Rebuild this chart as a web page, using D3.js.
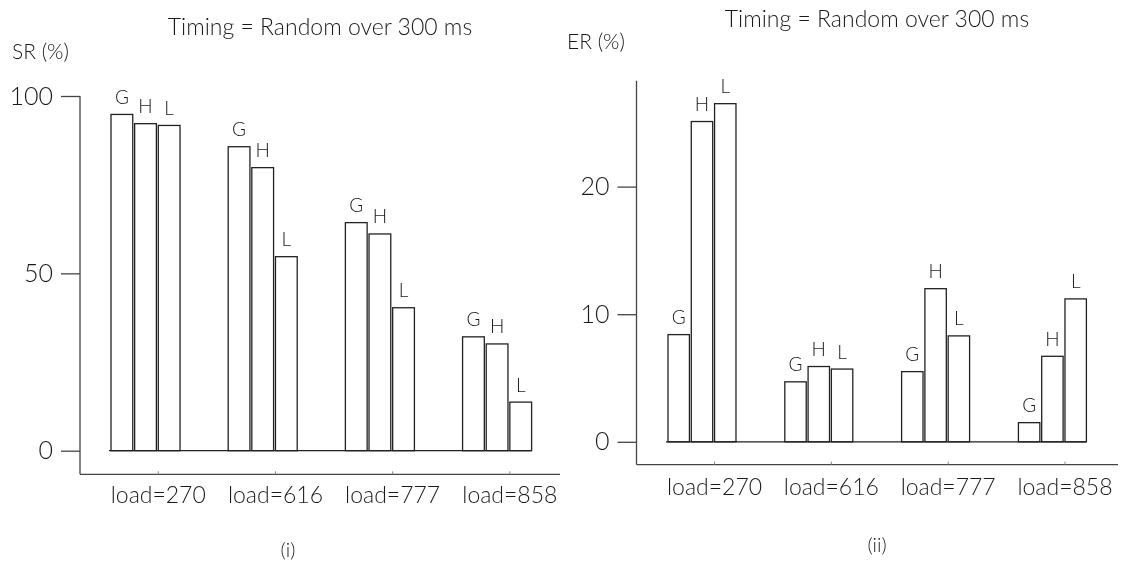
<!DOCTYPE html>
<html lang="en">
<head>
    <meta charset="UTF-8">
    <title>SR and ER by load</title>
    <script src="https://cdn.jsdelivr.net/npm/d3@7"></script>
    <style>
        body { margin: 0; background: #fff; }
        svg { will-change: transform; }
        svg text { font-family: Lato, "Open Sans", sans-serif; font-weight: 300; fill: #1a1a1a; }
    </style>
</head>
<body>
    <script>
        var categories = ["load=270", "load=616", "load=777", "load=858"];
        var series = ["G", "H", "L"];

        // panel (i): SR (%)
        var srG = [94.8, 85.7, 64.3, 32.1];
        var srH = [92.2, 79.8, 61.1, 30.1];
        var srL = [91.7, 54.7, 40.3, 13.7];
        var srTicks = [0, 50, 100];

        // panel (ii): ER (%)
        var erG = [8.4, 4.7, 5.5, 1.5];
        var erH = [25.1, 5.9, 12.0, 6.7];
        var erL = [26.5, 5.7, 8.3, 11.2];
        var erTicks = [0, 10, 20];

        var title = "Timing = Random over 300 ms";

        var w = 1125;
        var h = 567;

        var svg = d3.select("body")
                    .append("svg")
                    .attr("width", w)
                    .attr("height", h);

        function drawPanel(p) {
            var g = svg.append("g");

            var y = d3.scaleLinear()
                      .domain([0, p.yMax])
                      .range([p.yZero, p.yTop]);

            var x0 = d3.scaleBand()
                       .domain(categories)
                       .range([p.xStart, p.xEnd])
                       .paddingInner(p.groupPad)
                       .paddingOuter(0);

            var xs = d3.scaleBand()
                       .domain(series)
                       .range([0, x0.bandwidth()])
                       .paddingInner(0.08);

            // y axis line down to the bottom frame
            g.append("line")
             .attr("x1", p.axisX).attr("x2", p.axisX)
             .attr("y1", y(p.yMax)).attr("y2", p.frameY)
             .attr("stroke", "#444").attr("stroke-width", 1.3);

            // bottom frame
            g.append("line")
             .attr("x1", p.axisX).attr("x2", p.frameEnd)
             .attr("y1", p.frameY).attr("y2", p.frameY)
             .attr("stroke", "#444").attr("stroke-width", 1.3);

            var yAxis = d3.axisLeft(y)
                          .tickValues(p.ticks)
                          .tickSize(19)
                          .tickPadding(8)
                          .tickFormat(d3.format("d"));

            var ya = g.append("g")
                      .attr("transform", "translate(" + p.axisX + ",0)")
                      .call(yAxis);
            ya.select(".domain").remove();
            ya.selectAll("line").attr("stroke", "#444").attr("stroke-width", 1.3);
            ya.selectAll("text").attr("font-size", 25).attr("fill", "#1a1a1a")
              .style("font-family", "Lato, sans-serif").style("font-weight", 300);

            // category ticks and labels, ticks sit at the H/L boundary
            g.selectAll("line.ctick")
             .data(categories)
             .enter()
             .append("line")
             .attr("class", "ctick")
             .attr("x1", function(d) { return x0(d) + xs("L"); })
             .attr("x2", function(d) { return x0(d) + xs("L"); })
             .attr("y1", p.frameY)
             .attr("y2", p.frameY - 3)
             .attr("stroke", "#888");

            g.selectAll("text.cat")
             .data(categories)
             .enter()
             .append("text")
             .attr("class", "cat")
             .attr("x", function(d) { return x0(d) + xs("L"); })
             .attr("y", p.labelY)
             .attr("text-anchor", "middle")
             .attr("font-size", 23)
             .text(function(d) { return d; });

            // bar data
            var rows = [];
            categories.forEach(function(c, i) {
                series.forEach(function(s) {
                    rows.push({ cat: c, s: s, v: p.values[s][i] });
                });
            });

            var bars = g.selectAll("g.bar")
                        .data(rows)
                        .enter()
                        .append("g")
                        .attr("class", "bar");

            bars.append("rect")
                .attr("x", function(d) { return x0(d.cat) + xs(d.s); })
                .attr("y", function(d) { return y(d.v); })
                .attr("width", xs.bandwidth())
                .attr("height", function(d) { return y(0) - y(d.v); })
                .attr("fill", "#fff")
                .attr("stroke", "#222")
                .attr("stroke-width", 1.3);

            bars.append("text")
                .attr("x", function(d) { return x0(d.cat) + xs(d.s) + xs.bandwidth() / 2; })
                .attr("y", function(d) { return y(d.v) - 10.5; })
                .attr("text-anchor", "middle")
                .attr("font-size", 19)
                .text(function(d) { return d.s; });

            // zero baseline across the bars
            g.append("line")
             .attr("x1", p.xStart - 2).attr("x2", p.xEnd)
             .attr("y1", y(0)).attr("y2", y(0))
             .attr("stroke", "#222").attr("stroke-width", 1.3);

            g.append("text")
             .attr("x", p.titleX).attr("y", p.titleY)
             .attr("text-anchor", "middle")
             .attr("font-size", 23)
             .text(title);

            g.append("text")
             .attr("x", p.yLabelX).attr("y", p.yLabelY)
             .attr("font-size", 21)
             .text(p.yLabel);

            g.append("text")
             .attr("x", p.capX).attr("y", p.capY)
             .attr("text-anchor", "middle")
             .attr("font-size", 20)
             .text(p.caption);
        }

        drawPanel({
            values: { G: srG, H: srH, L: srL },
            ticks: srTicks,
            yMax: 100, yZero: 450.7, yTop: 96,
            xStart: 111, xEnd: 531.6, groupPad: 0.411,
            axisX: 80, frameY: 474.3, frameEnd: 560,
            labelY: 503,
            titleX: 320, titleY: 35,
            yLabel: "SR (%)", yLabelX: 12, yLabelY: 59,
            caption: "(i)", capX: 288, capY: 557
        });

        drawPanel({
            values: { G: erG, H: erH, L: erL },
            ticks: erTicks,
            yMax: 28.3, yZero: 441.8, yTop: 80.7,
            xStart: 668, xEnd: 1086.4, groupPad: 0.418,
            axisX: 636.5, frameY: 464.6, frameEnd: 1118,
            labelY: 495,
            titleX: 877, titleY: 27,
            yLabel: "ER (%)", yLabelX: 567, yLabelY: 49,
            caption: "(ii)", capX: 877, capY: 552
        });
    </script>
</body>
</html>
